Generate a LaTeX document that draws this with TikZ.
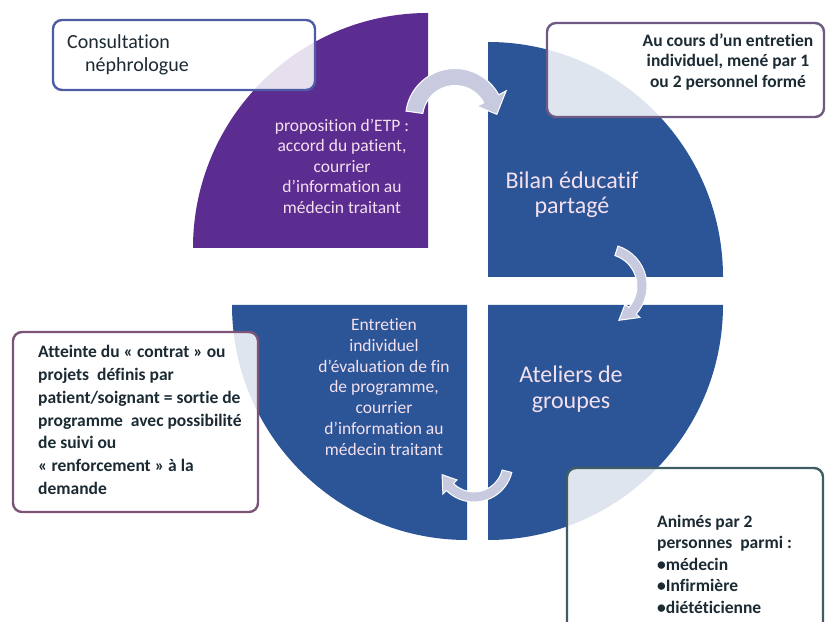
\documentclass[tikz,border=0pt]{standalone}
\usepackage{fontspec}
\setmainfont[Ligatures=NoCommon]{Carlito}
\definecolor{etpviolet}{HTML}{5C2D91}
\definecolor{etpblue}{HTML}{2B5597}
\definecolor{qlabel}{HTML}{F4E0EE}
\definecolor{cyclefill}{HTML}{C8CADF}
\definecolor{notedark}{HTML}{1B2A33}
\definecolor{edgeblue}{HTML}{4E5BA6}
\definecolor{edgemauve}{HTML}{6E5A82}
\definecolor{edgeplum}{HTML}{7B5478}
\definecolor{edgeteal}{HTML}{3F5E63}
\begin{document}
\begin{tikzpicture}[x=1pt,y=1pt,
  qtext/.style={text=qlabel, align=center, inner sep=0pt},
  notebox/.style={line width=2.4pt, rounded corners=9pt, fill=white, fill opacity=0.85},
  notetext/.style={text=notedark, inner sep=0pt, font=\bfseries\fontsize{17.5}{21}\selectfont},
  cyclearrow/.style={fill=cyclefill, draw=white, line width=1pt}
]
\useasboundingbox (0,0) rectangle (826,621);
\clip (0,0) rectangle (826,621);

% the four quarters of the cycle
\fill[etpviolet] (428,373) -- (428,608) arc[start angle=90, end angle=180, radius=235pt] -- cycle;
\fill[etpblue] (488,344) -- (723,344) arc[start angle=0, end angle=90, radius=235pt] -- cycle;
\fill[etpblue] (488,316) -- (488,81) arc[start angle=270, end angle=360, radius=235pt] -- cycle;
\fill[etpblue] (467,316) -- (232,316) arc[start angle=180, end angle=270, radius=235pt] -- cycle;

% labels of the quarters
\node[qtext, font=\fontsize{17.5}{20.5}\selectfont] (etp) at (342,455)
  {proposition d’ETP :\\accord du patient,\\courrier\\d’information au\\médecin traitant};
\node[qtext, font=\fontsize{24}{25}\selectfont] (bilan) at (572,426)
  {Bilan éducatif\\partagé};
\node[qtext, font=\fontsize{24}{26}\selectfont] (ateliers) at (571,232)
  {Ateliers de\\groupes};
\node[qtext, font=\fontsize{17.5}{20.8}\selectfont] (fin) at (384,234)
  {Entretien\\individuel\\d’évaluation de fin\\de programme,\\courrier\\d’information au\\médecin traitant};

% curved arrows between the quarters (clockwise)
\begin{scope}[shift={(455,503)}]
  \path[cyclearrow] (172:49.5pt) arc[start angle=172, end angle=28, radius=49.5pt]
    -- (28:58pt) -- (5:42pt) -- (28:25pt) -- (28:32.5pt)
    arc[start angle=28, end angle=172, radius=32.5pt] -- cycle;
\end{scope}
\begin{scope}[shift={(605,335)}]
  \path[cyclearrow] (72:42pt) arc[start angle=72, end angle=-42, radius=42pt]
    -- (-42:47pt) -- (-68:37pt) -- (-42:27pt) -- (-42:32pt)
    arc[start angle=-42, end angle=72, radius=32pt] -- cycle;
\end{scope}
\begin{scope}[shift={(474,158)}]
  \path[cyclearrow] (-14:39pt) arc[start angle=-14, end angle=-135, radius=39pt]
    -- (-135:44pt) -- (-160:34pt) -- (-135:24pt) -- (-135:29pt)
    arc[start angle=-135, end angle=-14, radius=29pt] -- cycle;
\end{scope}

% comment boxes
\path[notebox, draw=edgeblue] (53,531) rectangle (315,601);
\node[anchor=north west, align=left, text=notedark, inner sep=0pt,
  font=\fontsize{20}{23}\selectfont] (consult) at (67,587)
  {Consultation\\\hspace*{18pt}néphrologue};

\path[notebox, draw=edgemauve] (547,504) rectangle (824,598);
\node[notetext, align=center, font=\bfseries\fontsize{17.5}{20.5}\selectfont] (entretien) at (728,559)
  {Au cours d’un entretien\\individuel, mené par 1\\ou 2 personnel formé};

\path[notebox, draw=edgeplum] (13,109) rectangle (258,289);
\node[notetext, anchor=west, align=left, font=\bfseries\fontsize{17.5}{22.7}\selectfont] (contrat) at (38,201)
  {Atteinte du « contrat » ou\\projets\ \ définis par\\patient/soignant = sortie de\\programme\ \ avec possibilité\\de suivi ou\\« renforcement » à la\\demande};

\path[notebox, draw=edgeteal] (567,153) rectangle (823,-20);
\node[notetext, anchor=west, align=left, font=\bfseries\fontsize{17.5}{21.5}\selectfont] (animes) at (657,57)
  {Animés par 2\\personnes\ \ parmi :\\•médecin\\•Infirmière\\•diététicienne};
\end{tikzpicture}
\end{document}
